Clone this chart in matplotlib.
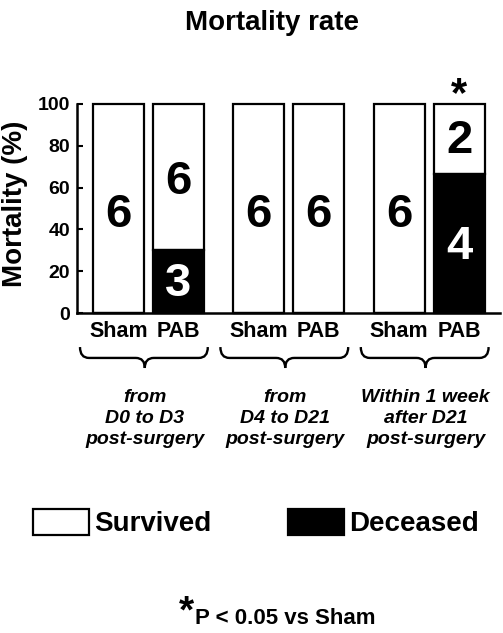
import numpy as np
import matplotlib
matplotlib.use('Agg')
import matplotlib.pyplot as plt
from matplotlib.patches import Patch, PathPatch
from matplotlib.path import Path
import matplotlib.transforms as mtransforms

plt.rcParams['font.family'] = ['Liberation Sans', 'DejaVu Sans']
plt.rcParams['font.weight'] = 'bold'

# data
groups = ['Sham', 'PAB', 'Sham', 'PAB', 'Sham', 'PAB']
deceased_pct = [0, 30, 0, 0, 0, 66.7]
survived_n = [6, 6, 6, 6, 6, 2]
deceased_n = [0, 3, 0, 0, 0, 4]
periods = ['from\nD0 to D3\npost-surgery',
           'from\nD4 to D21\npost-surgery',
           'Within 1 week\nafter D21\npost-surgery']
significant = [False, False, False, False, False, True]

# layout
pos = np.array([0, 1, 2.34, 3.34, 4.68, 5.68])
bar_w = 0.85
W, H = 503, 633

fig = plt.figure(figsize=(W / 100, H / 100), dpi=100)
ax = fig.add_axes([77 / W, 1 - 313 / H, (500 - 77) / W, (313 - 104) / H])

dec = np.array(deceased_pct)
ax.bar(pos, 100 - dec, bottom=dec, width=bar_w, color='white',
       edgecolor='black', linewidth=1.6, clip_on=False, zorder=2)
ax.bar(pos, dec, width=bar_w, color='black', edgecolor='black',
       linewidth=1.6, clip_on=False, zorder=2)

# counts inside the bars
for i in range(len(pos)):
    if deceased_n[i] == 0:
        ax.text(pos[i], 47, str(survived_n[i]), ha='center', va='center',
                fontsize=34, fontweight='bold', zorder=3)
    else:
        ys = dec[i] + (100 - dec[i]) * 0.47
        yd = dec[i] * 0.47
        ax.text(pos[i], ys, str(survived_n[i]), ha='center', va='center',
                fontsize=34, fontweight='bold', zorder=3)
        ax.text(pos[i], yd, str(deceased_n[i]), ha='center', va='center',
                fontsize=34, fontweight='bold', color='white', zorder=3)
    if significant[i]:
        ax.text(pos[i], 104.5, '*', ha='center', va='center', fontsize=30,
                fontweight='bold', clip_on=False)

ax.set_xlim(-0.69, 6.36)
ax.set_ylim(0, 100)
ax.set_yticks([0, 20, 40, 60, 80, 100])
ax.set_xticks(pos)
ax.set_xticklabels(groups)
ax.tick_params(axis='x', length=0, pad=6, labelsize=15.5)
ax.tick_params(axis='y', direction='in', length=4, width=1.5, pad=5, labelsize=14)
for lab in ax.get_xticklabels() + ax.get_yticklabels():
    lab.set_fontweight('bold')
for s in ['top', 'right']:
    ax.spines[s].set_visible(False)
for s in ['left', 'bottom']:
    ax.spines[s].set_linewidth(1.8)

# braces under each group
trans = mtransforms.blended_transform_factory(ax.transData, ax.transAxes)
ytop, ymid, ybot = -0.163, -0.215, -0.263
r = 0.15
for g in range(3):
    x0 = pos[2 * g] - 0.64
    x1 = pos[2 * g + 1] + 0.49
    xc = (pos[2 * g] + pos[2 * g + 1]) / 2 - 0.06
    verts = [(x0, ytop), (x0, ymid), (x0 + r, ymid), (xc - r, ymid),
             (xc, ymid), (xc, ybot), (xc, ymid), (xc + r, ymid),
             (x1 - r, ymid), (x1, ymid), (x1, ytop)]
    codes = [Path.MOVETO, Path.CURVE3, Path.CURVE3, Path.LINETO,
             Path.CURVE3, Path.CURVE3, Path.CURVE3, Path.CURVE3,
             Path.LINETO, Path.CURVE3, Path.CURVE3]
    ax.add_patch(PathPatch(Path(verts, codes), facecolor='none',
                           edgecolor='black', linewidth=1.7,
                           transform=trans, clip_on=False))
    ax.text(xc, -0.505, periods[g], transform=trans, ha='center',
            va='center', fontsize=14, fontweight='bold', style='italic',
            linespacing=1.32)

# title and y label
fig.text(272 / W, 1 - 23 / H, 'Mortality rate', ha='center', va='center',
         fontsize=20, fontweight='bold')
fig.text(15 / W, 1 - 204 / H, 'Mortality (%)', ha='center', va='center',
         rotation=90, fontsize=20, fontweight='bold')

# legend
handles = [Patch(facecolor='white', edgecolor='black', linewidth=1.6, label='Survived'),
           Patch(facecolor='black', edgecolor='black', linewidth=1.6, label='Deceased')]
fig.legend(handles=handles, loc='center', bbox_to_anchor=(256 / W, 1 - 523 / H),
           ncol=2, frameon=False, handlelength=2.0,
           handleheight=1.1, handletextpad=0.2, columnspacing=2.75,
           borderpad=0, prop={'weight': 'bold', 'size': 20})

# footnote
fig.text(186 / W, 1 - 612 / H, '*', ha='center', va='center', fontsize=28,
         fontweight='bold')
fig.text(195 / W, 1 - 618 / H, 'P < 0.05 vs Sham', ha='left', va='center',
         fontsize=16, fontweight='bold')

fig.savefig('out.png', dpi=100)
